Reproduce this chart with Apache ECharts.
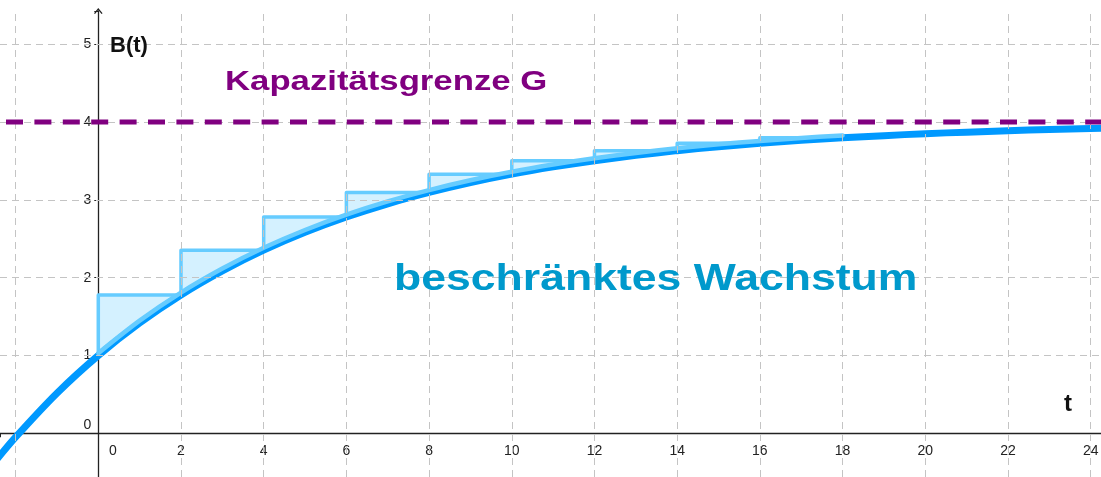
<!DOCTYPE html>
<html>
<head>
<meta charset="utf-8">
<script src="https://cdn.jsdelivr.net/npm/echarts@6/dist/echarts.min.js"></script>
<style>
html,body{margin:0;padding:0;background:#fff;}
#chart{width:1101px;height:477px;}
</style>
</head>
<body>
<div id="chart"></div>
<script>
// ---- data ----
const curveT = [-2.5,-2,-1,0,1,2,3,4,5,6,7,8,9,10,11,12,13,14,15,16,17,18,19,20,21,22,23,24,25];
const curveB = [-0.365,-0.05,0.515,1.0,1.418,1.778,2.087,2.354,2.583,2.78,2.95,3.096,3.222,3.331,3.424,3.504,3.573,3.633,3.684,3.728,3.766,3.798,3.826,3.851,3.871,3.889,3.905,3.918,3.929];
const lightT = [0,1,2,3,4,5,6,7,8,9,10,11,12,13,14,15,16,17,18];
const lightB = [1.03,1.448,1.808,2.117,2.384,2.613,2.81,2.98,3.126,3.252,3.361,3.454,3.534,3.603,3.663,3.714,3.758,3.796,3.828];
const stepStart = [0,2,4,6,8,10,12,14,16];
const stepEnd = [2,4,6,8,10,12,14,16,18];
const stepHeight = [1.778,2.354,2.78,3.096,3.331,3.504,3.633,3.728,3.798];
const capacityG = 4;
const gridX = [-2,2,4,6,8,10,12,14,16,18,20,22,24];
const gridY = [1,2,3,4,5];
const xTickLabels = [0,2,4,6,8,10,12,14,16,18,20,22,24];
const yTickLabels = [0,1,2,3,4,5];

const X_MIN = -2.377, X_MAX = 24.25;
const Y_MIN = -0.562, Y_MAX = 5.428;
const GRID_TOP = 11, W = 1101, H = 477;

const FONT = '"Liberation Sans", Arial, sans-serif';

const chart = echarts.init(document.getElementById('chart'));

function curveAt(t){
  const k = curveT.indexOf(t);
  return curveB[k];
}

// axis offsets so that the axes cross at (0,0)
const xZeroPx = (0 - X_MIN) / (X_MAX - X_MIN) * W;
const yZeroPx = GRID_TOP + (Y_MAX - 0) / (Y_MAX - Y_MIN) * (H - GRID_TOP);

const option = {
  animation: false,
  backgroundColor: '#ffffff',
  grid: { left: 0, right: 0, top: GRID_TOP, bottom: 0, containLabel: false, outerBoundsMode: 'none' },
  xAxis: {
    type: 'value', min: X_MIN, max: X_MAX, position: 'bottom', offset: -(H - yZeroPx),
    minInterval: 2, maxInterval: 2, splitNumber: 13,
    axisLine: { show: true, onZero: false, lineStyle: { color: '#222', width: 1.3 } },
    axisTick: { show: true, length: 4, lineStyle: { color: '#222', width: 1 } },
    splitLine: { show: false },
    axisLabel: {
      show: true, margin: 11, fontSize: 14, color: '#222', fontFamily: FONT,
      formatter: function (v) {
        if (xTickLabels.indexOf(v) < 0) return '';
        if (v === 0) return '{z|0}';
        return String(v);
      },
      rich: { z: { padding: [0, 0, 0, 29], fontSize: 14, color: '#222', fontFamily: FONT } }
    }
  },
  yAxis: {
    type: 'value', min: Y_MIN, max: Y_MAX, position: 'left', offset: -xZeroPx,
    minInterval: 1, maxInterval: 1, splitNumber: 6,
    axisLine: {
      show: true, onZero: false,
      symbol: ['none', 'path://M5,0 L10,6 L8.8,7 L5,2.2 L1.2,7 L0,6 Z'],
      symbolSize: [10, 6],
      lineStyle: { color: '#222', width: 1.3 }
    },
    axisTick: { show: true, length: 4, lineStyle: { color: '#222', width: 1 } },
    splitLine: { show: false },
    axisLabel: {
      show: true, margin: 7, fontSize: 14, color: '#222', fontFamily: FONT,
      formatter: function (v) {
        if (yTickLabels.indexOf(v) < 0) return '';
        if (v === 0) return '{z|0}';
        return String(v);
      },
      rich: { z: { padding: [0, 0, 17, 0], fontSize: 14, color: '#222', fontFamily: FONT } }
    }
  },
  graphic: [
    { type: 'text', x: 225, y: 82, scaleX: 1.24, z: 100,
      style: { text: 'Kapazitätsgrenze G', font: 'bold 28px ' + FONT, fill: '#800080', align: 'left', verticalAlign: 'middle' } },
    { type: 'text', x: 394, y: 280, scaleX: 1.238, z: 100,
      style: { text: 'beschränktes Wachstum', font: 'bold 36px ' + FONT, fill: '#0099CC', align: 'left', verticalAlign: 'middle' } },
    { type: 'text', x: 110, y: 46, z: 100,
      style: { text: 'B(t)', font: 'bold 22px ' + FONT, fill: '#111', align: 'left', verticalAlign: 'middle' } },
    { type: 'text', x: 1068, y: 404, z: 100,
      style: { text: 't', font: 'bold 24px ' + FONT, fill: '#111', align: 'center', verticalAlign: 'middle' } }
  ],
  series: [
    {
      name: 'grid', type: 'line', data: [], silent: true,
      markLine: {
        silent: true, symbol: ['none', 'none'], animation: false,
        label: { show: false },
        lineStyle: { color: '#c4c4c4', type: [7, 5], width: 1 },
        emphasis: { disabled: true },
        data: gridX.map(v => ({ xAxis: v })).concat(gridY.map(v => ({ yAxis: v })))
      }
    },
    {
      name: 'B(t)', type: 'line', smooth: 0.3, showSymbol: false, silent: true,
      data: curveT.map((t, i) => [t, curveB[i]]),
      lineStyle: { color: '#0099FF', width: 7, cap: 'round' }
    },
    {
      name: 'steps', type: 'custom', silent: true,
      data: stepStart.map((t, i) => [t, stepEnd[i], stepHeight[i]]),
      encode: { x: [0, 1], y: 2 },
      renderItem: function (params, api) {
        const t0 = api.value(0), t1 = api.value(1), h = api.value(2);
        const pts = [api.coord([t0, h]), api.coord([t1, h])];
        for (let k = curveT.length - 1; k >= 0; k--) {
          if (curveT[k] >= t0 && curveT[k] <= t1) pts.push(api.coord([curveT[k], curveB[k]]));
        }
        const b0 = api.coord([t0, curveAt(t0)]);
        return {
          type: 'group',
          children: [
            { type: 'polygon', shape: { points: pts }, style: { fill: 'rgba(102,204,255,0.28)', stroke: null } },
            { type: 'polyline', shape: { points: [b0, api.coord([t0, h]), api.coord([t1, h])] },
              style: { stroke: '#66CCFF', lineWidth: 3.5, fill: null, lineJoin: 'round', lineCap: 'round' } }
          ]
        };
      }
    },
    {
      name: 'approx', type: 'line', smooth: 0.3, showSymbol: false, silent: true,
      data: lightT.map((t, i) => [t, lightB[i]]),
      lineStyle: { color: '#66CCFF', width: 4.5, cap: 'round' }
    },
    {
      name: 'G', type: 'line', showSymbol: false, silent: true, z: 5,
      data: [[X_MIN, capacityG], [X_MAX, capacityG]],
      lineStyle: { color: '#800080', width: 5, type: [17, 11.4], dashOffset: 22.4 }
    }
  ]
};
chart.setOption(option);
</script>
</body>
</html>
